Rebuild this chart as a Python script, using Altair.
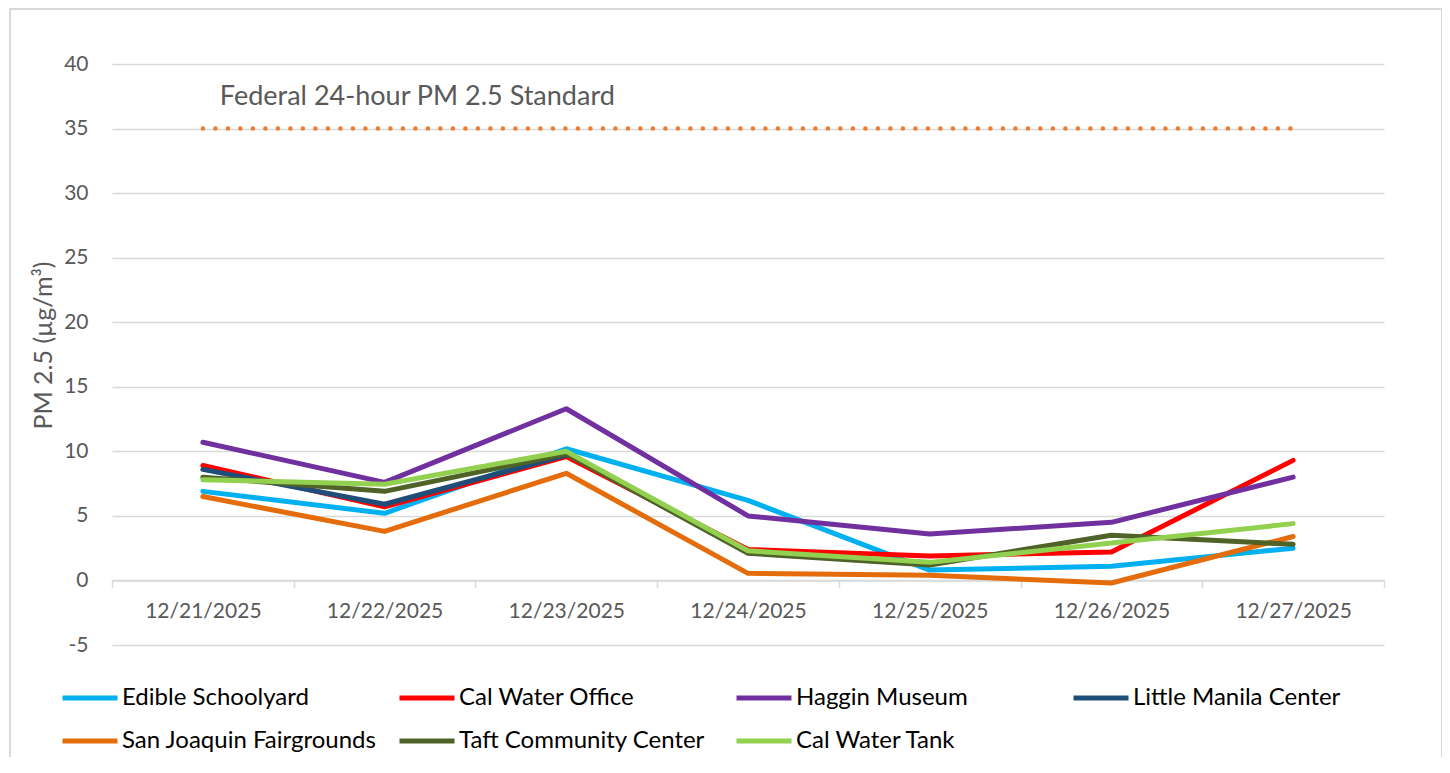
import altair as alt
import pandas as pd

dates = ["12/21/2025", "12/22/2025", "12/23/2025", "12/24/2025",
         "12/25/2025", "12/26/2025", "12/27/2025"]
sites = ["Edible Schoolyard", "Cal Water Office", "Haggin Museum",
         "Little Manila Center", "San Joaquin Fairgrounds",
         "Taft Community Center", "Cal Water Tank"]
colors = ["#00B0F0", "#FF0000", "#7030A0", "#1F4E79", "#E46C0A", "#4F6228", "#92D050"]

edible = [6.9, 5.2, 10.2, 6.2, 0.8, 1.1, 2.5]
cal_office = [8.9, 5.7, 9.6, 2.4, 1.9, 2.2, 9.3]
haggin = [10.7, 7.6, 13.3, 5.0, 3.6, 4.5, 8.0]
manila = [8.6, 5.9, 9.7, None, None, None, None]
fairgrounds = [6.5, 3.8, 8.3, 0.55, 0.4, -0.2, 3.4]
taft = [8.0, 6.9, 9.8, 2.1, 1.2, 3.5, 2.8]
tank = [7.8, 7.45, 10.0, 2.3, 1.4, 2.9, 4.4]
series = [edible, cal_office, haggin, manila, fairgrounds, taft, tank]

standard = [35, 35, 35, 35, 35, 35, 35]
standard_label = "Federal 24-hour PM 2.5 Standard"

rows = []
for s, vals in zip(sites, series):
    for d, v in zip(dates, vals):
        if v is not None:
            rows.append({"Date": d, "Site": s, "PM": v})
df = pd.DataFrame(rows)
std_df = pd.DataFrame({"Date": dates, "PM": standard})
ann_df = pd.DataFrame({"Date": [dates[0]], "PM": [standard[0]], "Label": [standard_label]})

FONT = "Lato"
GRAY = "#595959"
GRID = "#D9D9D9"
W, H = 1272, 581
YMIN, YMAX = -5, 40

x_enc = alt.X("Date:O",
              scale=alt.Scale(type="band", domain=dates, paddingInner=0, paddingOuter=0),
              axis=alt.Axis(title=None, labelAngle=0, grid=False,
                            domainColor=GRID, domainWidth=1.5,
                            tickColor=GRID, tickWidth=1.5, tickSize=7,
                            tickBand="extent",
                            offset=-H * (0 - YMIN) / (YMAX - YMIN),
                            labelFontSize=21, labelColor=GRAY, labelPadding=13))
y_enc = alt.Y("PM:Q",
              scale=alt.Scale(domain=[YMIN, YMAX], nice=False, zero=False),
              axis=alt.Axis(values=list(range(YMIN, YMAX + 1, 5)),
                            labelExpr="datum.value + ''",
                            grid=True, gridColor=GRID, gridWidth=1.3,
                            domain=False, ticks=False, tickSize=0,
                            labelFontSize=21, labelColor=GRAY, labelPadding=24,
                            title="PM 2.5 (µg/m³)", titleFontSize=25,
                            titleColor=GRAY, titleFontWeight="normal",
                            titleX=-69, titleY=281, titleAngle=270,
                            titleAlign="center", titleBaseline="middle"))

border = alt.Chart(alt.Data(values=[{}])).mark_rect(
    fill=None, stroke=GRID, strokeWidth=2
).encode(x=alt.value(-102), x2=alt.value(1330), y=alt.value(-55), y2=alt.value(760))

std_line = alt.Chart(std_df).mark_line(
    color="#ED7D31", strokeWidth=4.5, strokeDash=[0.1, 12.4], strokeCap="round"
).encode(x=x_enc, y=y_enc)

lines = alt.Chart(df).mark_line(
    strokeWidth=5, strokeCap="round", strokeJoin="round"
).encode(
    x=x_enc, y=y_enc,
    color=alt.Color("Site:N",
                    scale=alt.Scale(domain=sites, range=colors),
                    legend=alt.Legend(title=None, orient="none",
                                      legendX=-34, legendY=622,
                                      direction="horizontal", columns=4,
                                      symbolType="M-5,0H5", symbolSize=121,
                                      symbolStrokeWidth=5,
                                      labelFontSize=24, labelColor="#000000",
                                      labelOffset=20, columnPadding=12,
                                      rowPadding=19, gridAlign="all",
                                      labelLimit=500))
)

ann = alt.Chart(ann_df).mark_text(
    align="left", baseline="alphabetic", dx=17, dy=-24,
    fontSize=27, color=GRAY, font=FONT
).encode(x=x_enc, y=y_enc, text="Label:N")

chart = alt.layer(border, std_line, lines, ann).properties(
    width=W, height=H,
    autosize=alt.AutoSizeParams(type="none"),
    padding={"left": 104, "top": 56, "right": 58, "bottom": 112}
).configure(font=FONT).configure_view(stroke=None)

chart.save("out.html", embed_options={"renderer": "svg", "actions": False})
